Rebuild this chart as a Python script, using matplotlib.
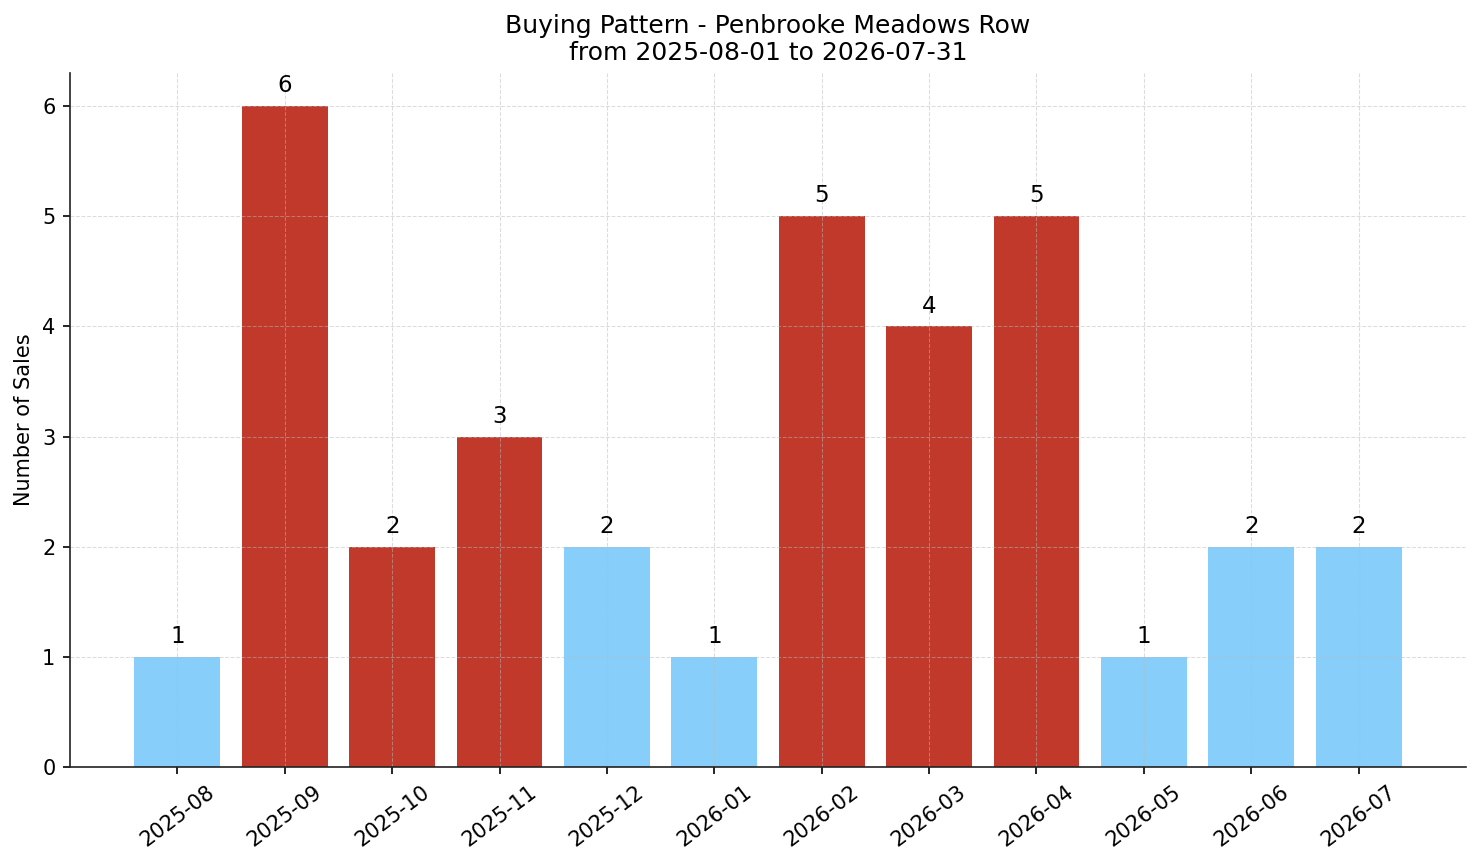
import matplotlib
matplotlib.use("Agg")
import matplotlib.pyplot as plt

months = ["2025-08", "2025-09", "2025-10", "2025-11", "2025-12", "2026-01",
          "2026-02", "2026-03", "2026-04", "2026-05", "2026-06", "2026-07"]
sales = [1, 6, 2, 3, 2, 1, 5, 4, 5, 1, 2, 2]
highlight = [False, True, True, True, False, False, True, True, True, False, False, False]

RED = "#C0392B"
BLUE = "#87CEFA"

fig = plt.figure(figsize=(1481 / 150, 863 / 150), dpi=150)
ax = fig.add_axes([70 / 1481, 1 - 767 / 863, (1466 - 70) / 1481, (767 - 73) / 863])

x = list(range(len(months)))
colors = [RED if h else BLUE for h in highlight]
ax.bar(x, sales, width=0.8, color=colors)

for xi, v in zip(x, sales):
    ax.text(xi, v + 0.08, str(v), ha="center", va="bottom", fontsize=11)

ax.set_xticks(x)
ax.set_xticklabels(months, rotation=37, ha="center", fontsize=10)
ax.tick_params(axis="y", labelsize=10)
ax.set_xlim(-1, 12)
ax.set_ylabel("Number of Sales", fontsize=10)
ax.set_title("Buying Pattern - Penbrooke Meadows Row\nfrom 2025-08-01 to 2026-07-31", fontsize=12)

ax.grid(True, linestyle="--", linewidth=0.5, color="#bbbbbb", alpha=0.5)
ax.spines["top"].set_visible(False)
ax.spines["right"].set_visible(False)
for s in ("left", "bottom"):
    ax.spines[s].set_color("#222222")

fig.savefig("out.png", dpi=150)
